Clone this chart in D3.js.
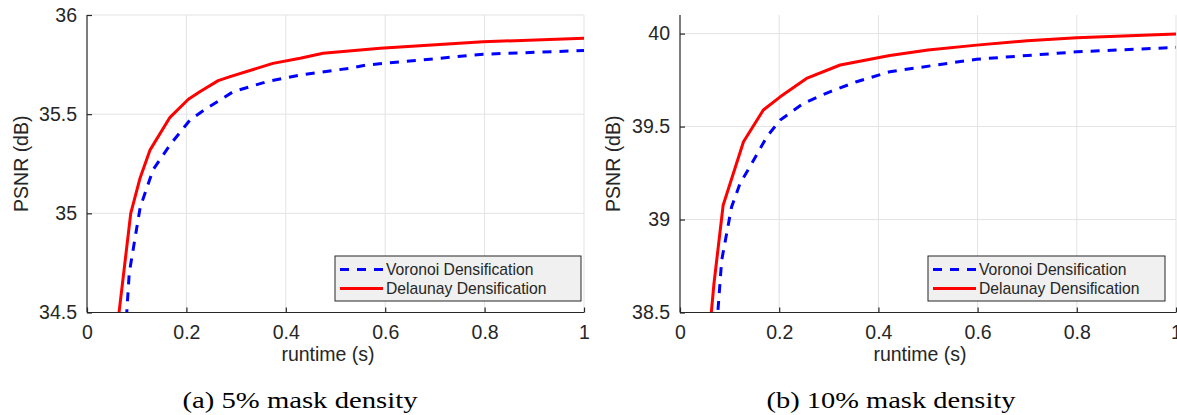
<!DOCTYPE html>
<html>
<head>
<meta charset="utf-8">
<script src="https://cdn.jsdelivr.net/npm/d3@7"></script>
<style>
  body { margin: 0; background: #fff; }
  svg { display: block; }
  text { font-family: "Liberation Sans", Arial, Helvetica, sans-serif; fill: #262626; }
  .caption { font-family: "Liberation Serif", "Times New Roman", serif; fill: #000; }
</style>
</head>
<body>
<script>
// data (runtime in s, PSNR in dB)
var xTicks = [0, 0.2, 0.4, 0.6, 0.8, 1];
var yTicksA = [34.5, 35, 35.5, 36];
var yTicksB = [38.5, 39, 39.5, 40];
var seriesNames = ["Voronoi Densification", "Delaunay Densification"];
var captions = ["(a) 5% mask density", "(b) 10% mask density"];

var voronoiA = [[0.075, 34.30], [0.085, 34.70], [0.097, 34.88], [0.107, 35.03], [0.133, 35.22],
  [0.167, 35.345], [0.207, 35.47], [0.241, 35.53], [0.294, 35.613], [0.362, 35.664],
  [0.429, 35.697], [0.535, 35.734], [0.563, 35.748], [0.797, 35.802], [1.0, 35.821]];
var delaunayA = [[0.056, 34.32], [0.088, 35.0], [0.107, 35.18], [0.127, 35.32], [0.167, 35.484],
  [0.204, 35.575], [0.227, 35.613], [0.264, 35.669], [0.288, 35.689], [0.374, 35.756],
  [0.429, 35.782], [0.475, 35.807], [0.59, 35.832], [0.797, 35.865], [1.0, 35.883]];

var voronoiB = [[0.069, 38.24], [0.084, 38.78], [0.104, 39.068], [0.121, 39.194], [0.141, 39.284],
  [0.175, 39.445], [0.202, 39.535], [0.249, 39.625], [0.302, 39.687], [0.356, 39.741],
  [0.423, 39.795], [0.598, 39.862], [0.80, 39.902], [1.0, 39.926]];
var delaunayB = [[0.058, 38.35], [0.0685, 38.656], [0.087, 39.077], [0.128, 39.418], [0.168, 39.589],
  [0.202, 39.660], [0.255, 39.759], [0.323, 39.831], [0.423, 39.882], [0.5, 39.912], [0.598, 39.938],
  [0.7, 39.962], [0.80, 39.978], [1.0, 39.998]];

var W = 1177, H = 415;
var axisColor = "#262626", gridColor = "#e3e3e3";
var plotTop = 15, plotBottom = 312.5;

var svg = d3.select("body").append("svg")
  .attr("width", W)
  .attr("height", H);

var panels = [
  { id: "a", x0: 87, x1: 584, yDomain: [34.5, 36], yTicks: yTicksA, voronoi: voronoiA, delaunay: delaunayA,
    ylabelX: 21, xlabelX: 328, captionX: 300, captionLen: 235, legend: { x: 335, w: 246 } },
  { id: "b", x0: 680, x1: 1176, yDomain: [38.5, 40.1], yTicks: yTicksB, voronoi: voronoiB, delaunay: delaunayB,
    ylabelX: 613, xlabelX: 920, captionX: 891, captionLen: 249, legend: { x: 928, w: 237 } }
];

panels.forEach(function(p, pi) {
  var x = d3.scaleLinear().domain([0, 1]).range([p.x0, p.x1]);
  var y = d3.scaleLinear().domain(p.yDomain).range([plotBottom, plotTop]);
  var g = svg.append("g");

  // grid
  g.append("g").selectAll("line")
    .data(xTicks.slice(1))
    .enter().append("line")
    .attr("x1", function(d) { return x(d); }).attr("x2", function(d) { return x(d); })
    .attr("y1", plotTop).attr("y2", plotBottom)
    .attr("stroke", gridColor).attr("stroke-width", 1);
  g.append("g").selectAll("line")
    .data(p.yTicks.slice(1))
    .enter().append("line")
    .attr("x1", p.x0).attr("x2", p.x1)
    .attr("y1", function(d) { return y(d); }).attr("y2", function(d) { return y(d); })
    .attr("stroke", gridColor).attr("stroke-width", 1);

  // curves, clipped to the axes box
  g.append("clipPath").attr("id", "clip-" + p.id)
    .append("rect")
    .attr("x", p.x0).attr("y", plotTop)
    .attr("width", p.x1 - p.x0).attr("height", plotBottom - plotTop);

  var line = d3.line()
    .x(function(d) { return x(d[0]); })
    .y(function(d) { return y(d[1]); });

  var curves = g.append("g").attr("clip-path", "url(#clip-" + p.id + ")");
  curves.append("path")
    .attr("d", line(p.delaunay))
    .attr("fill", "none").attr("stroke", "#ff0000").attr("stroke-width", 3)
    .attr("stroke-linejoin", "round");
  curves.append("path")
    .attr("d", line(p.voronoi))
    .attr("fill", "none").attr("stroke", "#0000ff").attr("stroke-width", 3)
    .attr("stroke-dasharray", "9,8");

  // axes (ticks pointing inward, as in MATLAB)
  var xAxis = d3.axisBottom(x).tickValues(xTicks).tickSize(-5).tickPadding(13)
    .tickFormat(function(d) { return d3.format("")(d); });
  var ax = g.append("g").attr("transform", "translate(0," + plotBottom + ")").call(xAxis);
  ax.select(".domain").attr("d", "M" + p.x0 + ",0H" + p.x1);

  var yAxis = d3.axisLeft(y).tickValues(p.yTicks).tickSize(-5).tickPadding(10)
    .tickFormat(function(d) { return d3.format("")(d); });
  var ay = g.append("g").attr("transform", "translate(" + p.x0 + ",0)").call(yAxis);
  ay.select(".domain").attr("d", "M0," + plotTop + "V" + plotBottom);

  [ax, ay].forEach(function(a) {
    a.select(".domain").attr("stroke", axisColor).attr("stroke-width", 1.2);
    a.selectAll(".tick line").attr("stroke", axisColor).attr("stroke-width", 1.2);
    a.selectAll(".tick text").attr("fill", axisColor)
      .style("font-size", "19.5px")
      .style("font-family", "'Liberation Sans', Arial, sans-serif");
  });

  // axis labels
  g.append("text")
    .attr("transform", "translate(" + p.ylabelX + "," + ((plotTop + plotBottom) / 2) + ") rotate(-90)")
    .attr("text-anchor", "middle")
    .attr("dy", "0.35em")
    .style("font-size", "19.5px")
    .text("PSNR (dB)");
  g.append("text")
    .attr("x", p.xlabelX).attr("y", 361)
    .attr("text-anchor", "middle")
    .style("font-size", "19.5px")
    .text("runtime (s)");

  // legend
  var lg = g.append("g");
  lg.append("rect")
    .attr("x", p.legend.x).attr("y", 256)
    .attr("width", p.legend.w).attr("height", 45)
    .attr("fill", "#f0f0f0").attr("stroke", axisColor).attr("stroke-width", 1);
  var rows = [
    { name: seriesNames[0], color: "#0000ff", dash: "9,8", y: 269.5 },
    { name: seriesNames[1], color: "#ff0000", dash: null, y: 288.5 }
  ];
  rows.forEach(function(r) {
    lg.append("line")
      .attr("x1", p.legend.x + 5).attr("x2", p.legend.x + 48)
      .attr("y1", r.y).attr("y2", r.y)
      .attr("stroke", r.color).attr("stroke-width", 3)
      .attr("stroke-dasharray", r.dash);
    lg.append("text")
      .attr("x", p.legend.x + 51).attr("y", r.y)
      .attr("dy", "0.35em")
      .style("font-size", "15.7px")
      .text(r.name);
  });

  // caption
  g.append("text")
    .attr("class", "caption")
    .attr("x", p.captionX).attr("y", 408)
    .attr("text-anchor", "middle")
    .attr("textLength", p.captionLen)
    .attr("lengthAdjust", "spacingAndGlyphs")
    .style("font-size", "24px")
    .text(captions[pi]);
});
</script>
</body>
</html>
